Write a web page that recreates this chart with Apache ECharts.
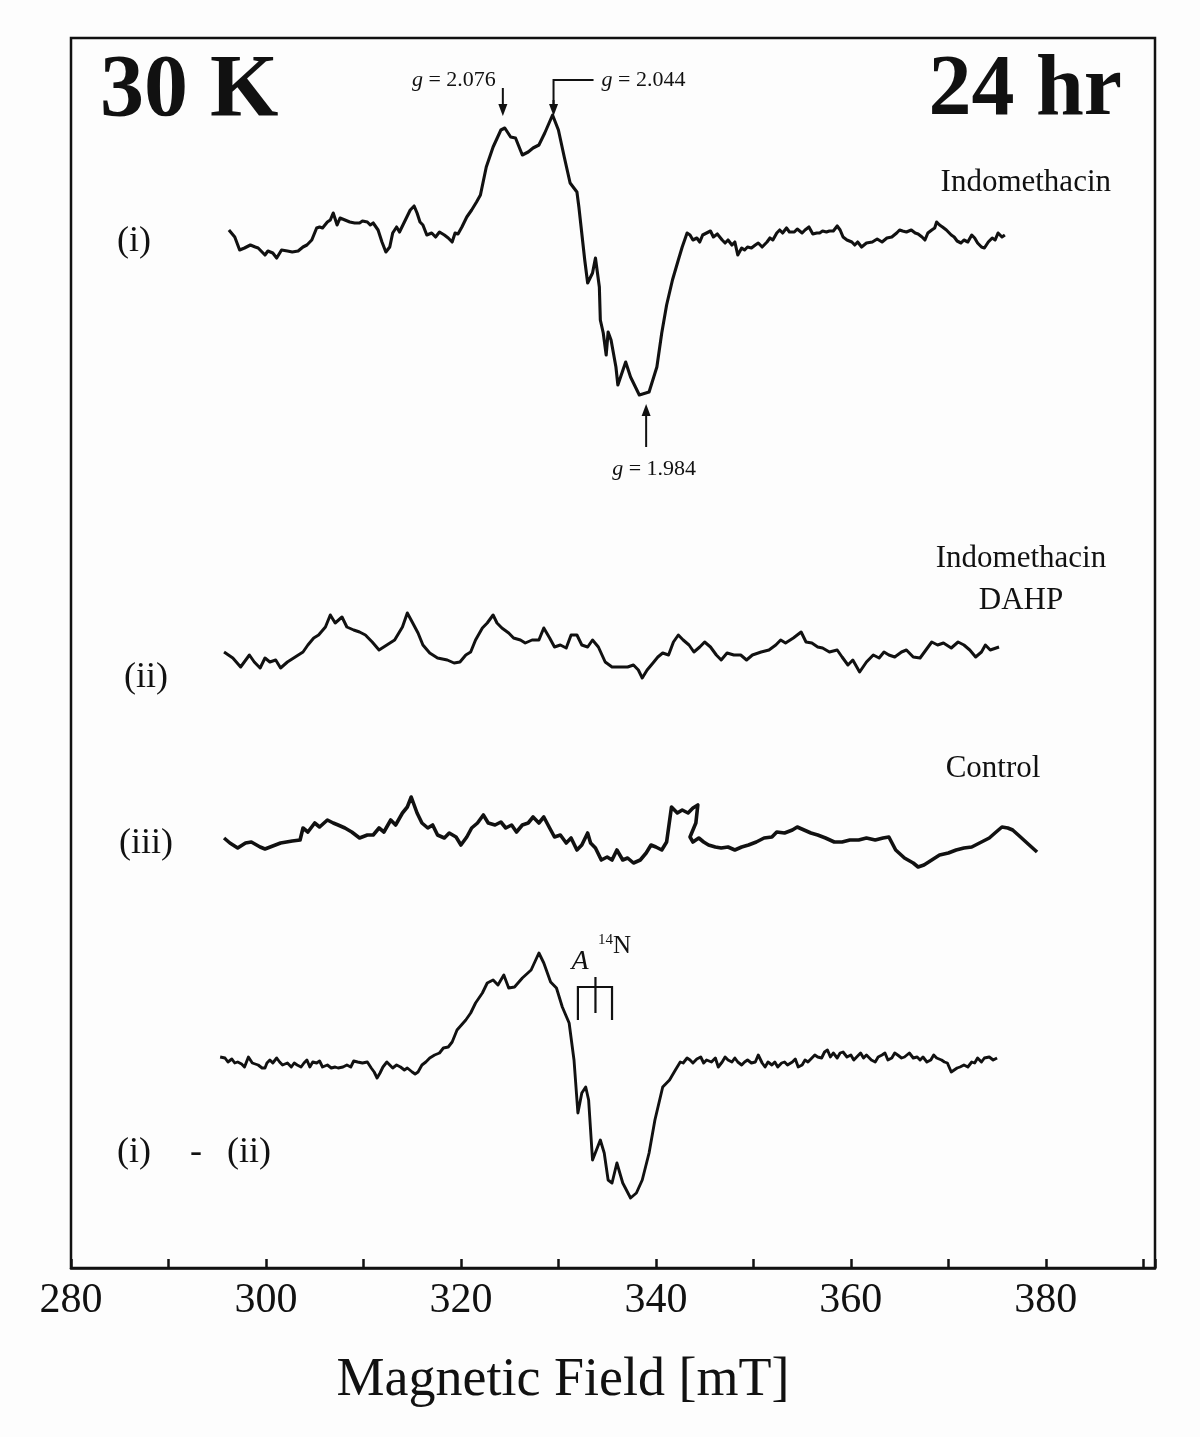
<!DOCTYPE html>
<html>
<head>
<meta charset="utf-8">
<script src="https://cdn.jsdelivr.net/npm/echarts@6/dist/echarts.min.js"></script>
<style>
html,body{margin:0;padding:0;background:#fdfdfd;}
#chart{width:1200px;height:1437px;}
</style>
</head>
<body>
<div id="chart"></div>
<script>
// ---- data: [field (mT), signal (a.u.)] ----
const traceI = [[296.2,10],[296.8,3],[297.3,-10],[297.8,-8],[298.4,-5],[298.9,-7],[299.2,-8],[299.6,-12],[299.9,-15],[300.2,-11],[300.7,-13],[301.1,-18],[301.6,-10],[302.2,-11],[302.7,-12],[303.3,-11],[303.8,-7],[304.2,-5],[304.7,0],[305.2,12],[305.5,13],[305.8,12],[306.3,18],[306.6,20],[306.9,27],[307.3,15],[307.6,22],[308.1,20],[308.6,18],[309.1,17],[309.6,17],[309.9,19],[310.4,18],[310.7,15],[311.0,17],[311.5,10],[311.9,-2],[312.3,-12],[312.7,-7],[313.0,7],[313.4,13],[313.7,8],[314.3,20],[314.8,30],[315.2,34],[315.5,27],[315.8,18],[316.1,15],[316.5,5],[317.0,7],[317.4,3],[317.8,8],[318.3,5],[318.7,2],[319.1,-2],[319.4,7],[319.7,6],[320.1,13],[320.6,23],[321.1,30],[321.6,38],[322.0,45],[322.6,73],[323.3,93],[324.1,110],[324.5,112],[325.1,103],[325.6,102],[326.3,85],[326.9,88],[327.4,92],[328.0,95],[328.6,107],[329.4,125],[330.0,110],[330.6,83],[331.2,57],[331.9,48],[332.1,33],[332.7,-20],[333.0,-43],[333.5,-33],[333.8,-18],[334.2,-47],[334.3,-80],[334.6,-93],[334.9,-115],[335.1,-92],[335.4,-100],[335.9,-127],[336.1,-145],[336.9,-122],[337.4,-137],[338.3,-155],[339.3,-152],[340.1,-127],[340.6,-93],[341.1,-65],[341.7,-40],[342.3,-20],[342.7,-7],[343.2,7],[343.5,5],[343.8,0],[344.2,2],[344.5,-2],[344.8,5],[345.2,7],[345.6,9],[345.9,3],[346.3,6],[346.8,0],[347.1,-3],[347.4,0],[347.8,-5],[348.1,-2],[348.4,-15],[348.8,-8],[349.1,-10],[349.4,-7],[349.8,-8],[350.2,-5],[350.5,-3],[350.9,-7],[351.4,-2],[351.7,2],[352.0,0],[352.4,7],[352.7,10],[353.0,7],[353.4,12],[353.7,8],[354.2,8],[354.5,11],[355.0,7],[355.3,10],[355.7,13],[356.1,6],[356.5,7],[356.8,7],[357.1,9],[357.5,8],[357.8,9],[358.2,9],[358.6,14],[358.9,10],[359.2,3],[359.6,0],[360.1,-2],[360.4,-5],[360.7,-2],[361.1,-7],[361.6,-3],[362.2,-2],[362.7,1],[363.2,-2],[363.7,2],[364.2,3],[364.7,7],[365.0,10],[365.3,9],[365.7,8],[366.2,10],[366.6,7],[366.9,6],[367.3,3],[367.6,0],[367.9,7],[368.3,10],[368.6,12],[368.8,18],[369.1,15],[369.4,13],[369.8,10],[370.3,5],[370.6,3],[370.9,-1],[371.3,-3],[371.6,0],[372.0,-2],[372.4,5],[372.7,2],[373.0,-3],[373.4,-7],[373.7,-8],[374.1,-2],[374.5,2],[374.8,0],[375.1,7],[375.5,3],[375.8,5]];

const traceII = [[295.7,-2],[296.6,-8],[297.4,-17],[298.3,-5],[298.8,-12],[299.4,-18],[299.9,-8],[300.4,-12],[301.0,-10],[301.5,-18],[302.2,-12],[303.0,-7],[303.8,-2],[304.3,5],[304.9,12],[305.4,15],[306.1,23],[306.6,35],[307.1,27],[307.8,33],[308.3,23],[309.0,20],[309.6,18],[310.2,15],[310.9,8],[311.6,0],[312.4,5],[313.2,10],[314.0,23],[314.5,37],[315.0,28],[315.6,17],[316.1,5],[316.8,-3],[317.6,-8],[318.6,-10],[319.3,-13],[319.9,-12],[320.5,-5],[321.0,-2],[321.5,10],[322.2,22],[322.7,27],[323.3,35],[323.7,27],[324.2,22],[324.9,17],[325.4,12],[326.1,10],[326.6,7],[327.3,10],[328.0,10],[328.5,22],[329.1,12],[329.6,3],[330.2,5],[330.8,2],[331.3,15],[331.9,15],[332.4,5],[333.0,3],[333.5,10],[334.1,3],[334.8,-12],[335.5,-17],[336.3,-17],[337.1,-17],[337.7,-15],[338.2,-20],[338.6,-28],[339.1,-20],[339.7,-13],[340.2,-7],[340.7,-3],[341.3,-5],[341.8,8],[342.3,15],[342.8,10],[343.4,5],[343.9,-2],[344.5,3],[345.0,8],[345.6,3],[346.2,-5],[346.7,-10],[347.3,-3],[348.0,-5],[348.7,-5],[349.3,-10],[349.9,-5],[350.8,-2],[351.6,0],[352.3,5],[352.8,10],[353.3,7],[354.1,12],[354.9,18],[355.4,8],[356.0,7],[356.6,3],[357.1,2],[357.8,-2],[358.6,0],[359.1,-7],[359.7,-15],[360.2,-10],[360.9,-22],[361.6,-12],[362.3,-5],[362.9,-8],[363.4,-2],[363.9,-5],[364.5,-7],[365.2,-2],[365.7,0],[366.4,-7],[367.1,-8],[367.7,0],[368.3,8],[368.9,5],[369.5,7],[370.3,2],[371.0,8],[371.6,5],[372.2,0],[372.8,-7],[373.4,-2],[373.8,5],[374.3,0],[374.9,2],[375.2,3]];

const traceIII = [[295.7,2],[296.3,-3],[297.1,-8],[297.9,-3],[298.5,-2],[299.4,-7],[299.9,-9],[300.7,-6],[301.5,-3],[302.7,-1],[303.5,0],[303.8,12],[304.3,8],[305.0,17],[305.5,13],[306.3,20],[306.9,17],[307.4,15],[308.1,12],[308.8,8],[309.6,2],[310.4,5],[311.0,5],[311.6,12],[312.1,8],[312.8,20],[313.3,15],[314.0,27],[314.5,33],[314.9,43],[315.5,27],[316.0,17],[316.6,12],[317.1,15],[317.6,5],[318.3,2],[318.8,7],[319.5,3],[320.0,-5],[320.6,3],[321.1,12],[321.7,17],[322.3,25],[322.8,17],[323.5,15],[324.1,18],[324.6,12],[325.2,15],[325.7,8],[326.3,15],[326.9,17],[327.4,23],[328.0,17],[328.5,23],[329.1,12],[329.6,3],[330.2,5],[330.8,-3],[331.3,2],[331.9,-10],[332.4,-5],[333.0,7],[333.3,-3],[333.8,-8],[334.4,-20],[335.0,-17],[335.5,-20],[336.0,-10],[336.6,-20],[337.1,-18],[337.7,-23],[338.4,-20],[339.0,-13],[339.5,-5],[340.0,-7],[340.6,-10],[341.1,-2],[341.6,33],[342.2,27],[342.7,30],[343.3,27],[343.8,32],[344.3,35],[344.1,17],[343.5,3],[343.8,-2],[344.4,2],[344.9,-2],[345.4,-5],[346.1,-7],[346.7,-8],[347.4,-7],[348.1,-10],[348.8,-7],[349.5,-5],[350.3,-2],[351.1,2],[351.9,3],[352.4,8],[353.2,7],[354.0,10],[354.5,13],[355.2,10],[355.9,7],[356.6,5],[357.4,2],[358.3,-2],[359.1,-2],[359.9,0],[360.8,0],[361.6,2],[362.5,0],[363.3,2],[363.9,3],[364.6,-10],[365.5,-18],[366.4,-23],[366.9,-27],[367.5,-25],[368.3,-20],[369.1,-15],[370.0,-13],[370.8,-10],[371.6,-8],[372.4,-7],[373.2,-3],[374.2,2],[374.9,8],[375.5,13],[376.1,12],[376.6,10],[377.4,3],[378.3,-5],[379.1,-12]];

const traceIV = [[295.3,3],[295.8,2],[296.1,-2],[296.5,1],[296.8,-3],[297.1,-2],[297.5,-4],[297.8,-7],[298.2,3],[298.6,-3],[298.9,-4],[299.2,-5],[299.6,-8],[299.9,-8],[300.1,-3],[300.4,0],[300.7,-3],[301.1,2],[301.4,-2],[301.7,-5],[302.2,-3],[302.6,-7],[302.9,-3],[303.2,-5],[303.6,-7],[303.9,-3],[304.2,0],[304.5,-7],[304.8,-2],[305.2,-3],[305.5,-1],[305.8,-7],[306.3,-5],[306.7,-8],[307.1,-7],[307.4,-8],[307.9,-7],[308.3,-5],[308.7,-7],[309.0,-1],[309.4,-2],[309.9,-3],[310.4,-2],[310.8,-8],[311.1,-12],[311.4,-18],[311.7,-13],[312.0,-7],[312.4,-2],[312.7,-5],[313.0,-8],[313.4,-5],[313.8,-7],[314.2,-10],[314.5,-8],[315.0,-12],[315.3,-14],[315.6,-12],[316.0,-5],[316.4,-2],[316.8,2],[317.3,5],[317.8,7],[318.2,12],[318.7,13],[319.1,18],[319.6,30],[320.5,40],[321.0,47],[321.5,57],[322.2,67],[322.7,77],[323.3,80],[323.8,75],[324.4,85],[324.9,72],[325.5,73],[326.3,82],[327.2,90],[328.0,107],[328.5,97],[329.2,78],[329.8,72],[330.4,53],[331.1,37],[331.6,0],[332.0,-53],[332.4,-33],[332.8,-27],[333.1,-40],[333.5,-100],[334.3,-80],[334.7,-93],[335.1,-120],[335.5,-123],[336.0,-103],[336.6,-123],[337.4,-138],[338.0,-133],[338.6,-120],[339.3,-93],[339.9,-60],[340.7,-27],[341.4,-20],[342.0,-10],[342.5,-2],[342.8,-3],[343.2,2],[343.5,0],[343.8,-3],[344.2,1],[344.6,3],[344.9,-3],[345.2,0],[345.7,-2],[346.1,2],[346.4,-7],[346.8,-2],[347.1,3],[347.4,0],[347.8,-2],[348.1,2],[348.4,-2],[348.8,-5],[349.1,-2],[349.4,0],[349.8,-3],[350.2,-2],[350.5,5],[350.9,-3],[351.2,-7],[351.5,-2],[351.9,-5],[352.2,-2],[352.5,-7],[352.9,-3],[353.2,-2],[353.5,-5],[354.0,-2],[354.3,1],[354.6,-7],[355.0,-5],[355.3,0],[355.6,-2],[356.0,2],[356.3,5],[356.6,3],[357.0,2],[357.3,8],[357.6,10],[357.9,3],[358.2,7],[358.6,2],[358.9,7],[359.2,8],[359.6,3],[360.0,5],[360.3,0],[360.6,3],[361.0,7],[361.3,2],[361.6,5],[362.1,0],[362.5,-2],[362.8,3],[363.2,5],[363.5,7],[363.8,0],[364.2,2],[364.5,7],[364.8,5],[365.2,2],[365.5,3],[366.0,7],[366.4,2],[366.8,3],[367.1,0],[367.4,3],[367.8,-2],[368.2,0],[368.5,5],[368.8,2],[369.3,0],[369.6,-2],[369.9,-3],[370.3,-12],[370.5,-13],[370.9,-8],[371.2,-7],[371.6,-5],[372.0,-7],[372.4,-2],[372.7,-3],[373.0,2],[373.4,-2],[373.7,2],[374.2,3],[374.6,0],[375.0,2]];

// axis ticks / labels
const tickLabels = [280, 300, 320, 340, 360, 380];
// g-value markers (field positions, mT) and labels
const gMarks = [
  {field: 324.3, label: '2.076'},
  {field: 329.5, label: '2.044'},
  {field: 339.0, label: '1.984'}
];
// 14N hyperfine stick positions (mT)
const hfSticks = [332.0, 333.8, 335.5];

// ---- layout ----
const baselines = [1028, 618, 428, 208]; // vertical stacking offsets (a.u.)
const SERIF = '"Liberation Serif","Times New Roman",serif';
const INK = '#111';

const chart = echarts.init(document.getElementById('chart'), null, {renderer: 'canvas'});

function shift(trace, off) { return trace.map(p => [p[0], p[1] + off]); }
const traces = [traceI, traceII, traceIII, traceIV];
const widths = [3.1, 3.0, 3.6, 2.9];

const option = {
  animation: false,
  backgroundColor: '#fdfdfd',
  grid: {left: 71, right: 45, top: 38, bottom: 169, show: true, borderColor: INK, borderWidth: 2.5, backgroundColor: 'transparent'},
  xAxis: {
    type: 'value', min: 280, max: 391.2, interval: 10,
    splitLine: {show: false},
    axisLine: {lineStyle: {color: INK, width: 2.5}},
    axisTick: {inside: true, length: 9, lineStyle: {color: INK, width: 2.5}},
    axisLabel: {
      margin: 12, color: INK, fontFamily: SERIF, fontSize: 42,
      formatter: v => tickLabels.indexOf(Math.round(v)) >= 0 && Math.abs(v - Math.round(v)) < 1e-6 ? String(Math.round(v)) : ''
    },
    name: 'Magnetic Field [mT]', nameLocation: 'middle', nameGap: 86,
    nameTextStyle: {fontFamily: SERIF, fontSize: 54, color: INK, padding: [0, 100, 0, 0]}
  },
  yAxis: {type: 'value', min: 0, max: 1230, show: false},
  series: traces.map((t, i) => ({
    type: 'line', data: shift(t, baselines[i]), showSymbol: false, symbol: 'none',
    lineStyle: {color: INK, width: widths[i], join: 'round'}, silent: true
  }))
};
chart.setOption(option);

// ---- annotations (positions derived from axis) ----
const px = f => chart.convertToPixel({xAxisIndex: 0}, f);
function txt(x, y, text, size, opts) {
  opts = opts || {};
  return {type: 'text', x: x, y: y, z: 10, style: Object.assign({
    text: text, fill: INK, font: (opts.weight || 'normal') + ' ' + (opts.italic ? 'italic ' : '') + size + 'px ' + SERIF,
    align: opts.align || 'left', verticalAlign: 'middle'
  }, opts.rich ? {rich: opts.rich} : {})};
}
function gText(x, y, val, align) {
  return {type: 'text', x: x, y: y, z: 10, style: {
    text: '{i|g} = ' + val, fill: INK, font: '22px ' + SERIF, align: align, verticalAlign: 'middle',
    rich: {i: {fontStyle: 'italic', fontFamily: SERIF, fontSize: 22, fill: INK}}
  }};
}
function arrowDown(x, y0, y1) {
  return [
    {type: 'line', z: 10, shape: {x1: x, y1: y0, x2: x, y2: y1 - 8}, style: {stroke: INK, lineWidth: 2}},
    {type: 'polygon', z: 10, shape: {points: [[x - 4.5, y1 - 12], [x + 4.5, y1 - 12], [x, y1]]}, style: {fill: INK}}
  ];
}
function arrowUp(x, y0, y1) {
  return [
    {type: 'line', z: 10, shape: {x1: x, y1: y0, x2: x, y2: y1 + 8}, style: {stroke: INK, lineWidth: 2}},
    {type: 'polygon', z: 10, shape: {points: [[x - 4.5, y1 + 12], [x + 4.5, y1 + 12], [x, y1]]}, style: {fill: INK}}
  ];
}

const g1 = px(gMarks[0].field), g2 = px(gMarks[1].field), g3 = px(gMarks[2].field);
const s = hfSticks.map(px);
const graphics = [
  txt(100, 92, '30 K', 88, {weight: 'bold'}),
  txt(1122, 92, '24 hr', 86, {weight: 'bold', align: 'right'}),
  gText(g1 - 7, 80, gMarks[0].label, 'right'),
  gText(g2 + 48, 80, gMarks[1].label, 'left'),
  gText(g3 - 34, 469, gMarks[2].label, 'left'),
  ...arrowDown(g1, 88, 116),
  {type: 'polyline', z: 10, shape: {points: [[g2 + 40, 80], [g2, 80], [g2, 108]]}, style: {stroke: INK, lineWidth: 2, fill: null}},
  ...arrowDown(g2, 100, 116),
  ...arrowUp(g3, 447, 404),
  txt(1111, 183, 'Indomethacin', 31, {align: 'right'}),
  txt(117, 242, '(i)', 36),
  txt(1021, 559, 'Indomethacin', 31, {align: 'center'}),
  txt(1021, 601, 'DAHP', 31, {align: 'center'}),
  txt(124, 678, '(ii)', 36),
  txt(993, 769, 'Control', 31, {align: 'center'}),
  txt(119, 844, '(iii)', 36),
  txt(117, 1153, '(i)', 36),
  txt(190, 1153, '-', 36),
  txt(227, 1153, '(ii)', 36),
  txt(580, 962, 'A', 28, {italic: true, align: 'center'}),
  txt(598, 940, '14', 15),
  txt(613, 946, 'N', 25),
  {type: 'polyline', z: 10, shape: {points: [[s[0], 1020], [s[0], 987], [s[2], 987], [s[2], 1020]]}, style: {stroke: INK, lineWidth: 2.2, fill: null}},
  {type: 'line', z: 10, shape: {x1: s[1], y1: 977, x2: s[1], y2: 1013}, style: {stroke: INK, lineWidth: 2.2}}
];
chart.setOption({graphic: graphics});
</script>
</body>
</html>
